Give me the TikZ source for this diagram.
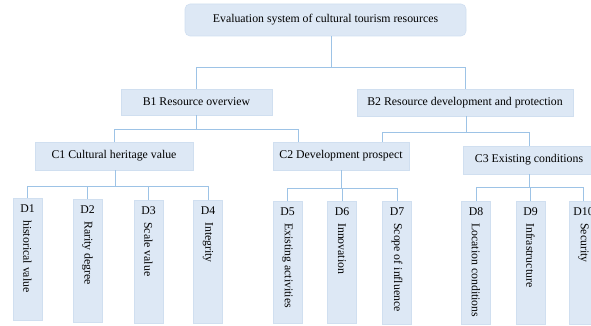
\documentclass[tikz,border=0pt]{standalone}
\usepackage{fontspec}
\setmainfont{Liberation Serif}
\usetikzlibrary{calc}
\definecolor{boxblue}{RGB}{221,232,245}
\definecolor{boxedge}{RGB}{208,223,240}
\definecolor{linkblue}{RGB}{157,195,230}

\begin{document}
\begin{tikzpicture}[x=1pt, y=-1pt, every node/.style={font=\fontsize{11.8}{14}\selectfont},
  box/.style={fill=boxblue, draw=boxedge, line width=0.6pt, inner sep=0pt},
  link/.style={draw=linkblue, line width=0.8pt}]
\clip (0,0) rectangle (591,326);
% upper levels
\node[box, rounded corners=5pt, minimum width=281pt, minimum height=32pt] (top) at (325.5,20) {Evaluation system of cultural tourism resources};
\node[box, minimum width=151pt, minimum height=26pt] (b1) at (196.5,102) {B1 Resource overview};
\node[box, minimum width=216pt, minimum height=27pt] (b2) at (465,102.5) {B2 Resource development and protection};
\node[box, minimum width=158pt, minimum height=28pt] (c1) at (114,156) {C1 Cultural heritage value};
\node[box, minimum width=136pt, minimum height=28pt] (c2) at (341,156) {C2 Development prospect};
\node[box, minimum width=132pt, minimum height=28pt] (c3) at (529,160) {C3 Existing conditions};
% indicator columns
\foreach \n/\dx/\dtop/\dbot/\dtxt in {1/27.5/198/320/historical value, 2/87.5/199/322/Rarity degree,
    3/148.5/200/323/Scale value, 4/208/200/323/Integrity, 5/287.5/201/323/Existing activities,
    6/342/201/323/Innovation, 7/397/201/324/Scope of influence, 8/476/201/324/Location conditions,
    9/530.5/201/324/Infrastructure, 10/583.5/201/324/Security} {
  \node[box, minimum width=29pt, minimum height=\dbot pt-\dtop pt, anchor=north] (d\n) at (\dx,\dtop) {};
  \node (d\n-id) at ([yshift=-11pt]d\n.north) {D\n};
  \node[rotate=-90, anchor=west, inner sep=0pt] (d\n-txt) at ([yshift=-22pt]d\n.north) {\dtxt};
}
% connectors
\draw[link] ([xshift=5.5pt]top.south) -- ++(0,31) coordinate (tj);
\draw[link] (b1.north) |- (tj) -| (b2.north);
\draw[link] (b1.south) -- ++(0,14) coordinate (b1j);
\draw[link] (c1.north) |- (b1j) -| ([xshift=-43pt]c2.north);
\draw[link] ([xshift=1pt]b2.south) -- ++(0,16) coordinate (b2j);
\draw[link] ([xshift=41pt]c2.north) |- (b2j) -| (c3.north);
\draw[link] ([xshift=1pt]c1.south) -- ++(0,16) coordinate (c1j);
\draw[link] (d1.north) |- (c1j) -| (d4.north);
\foreach \n in {2,3} \draw[link] (d\n.north) -- (d\n.north |- c1j);
\draw[link] (c2.south) -- ++(0,18) coordinate (c2j);
\draw[link] (d5.north) |- (c2j) -| (d7.north);
\draw[link] (d6.north) -- (d6.north |- c2j);
\draw[link] (c3.south) -- ++(0,13) coordinate (c3j);
\draw[link] (d8.north) |- (c3j) -| (d10.north);
\draw[link] (d9.north) -- (d9.north |- c3j);
\end{tikzpicture}
\end{document}
